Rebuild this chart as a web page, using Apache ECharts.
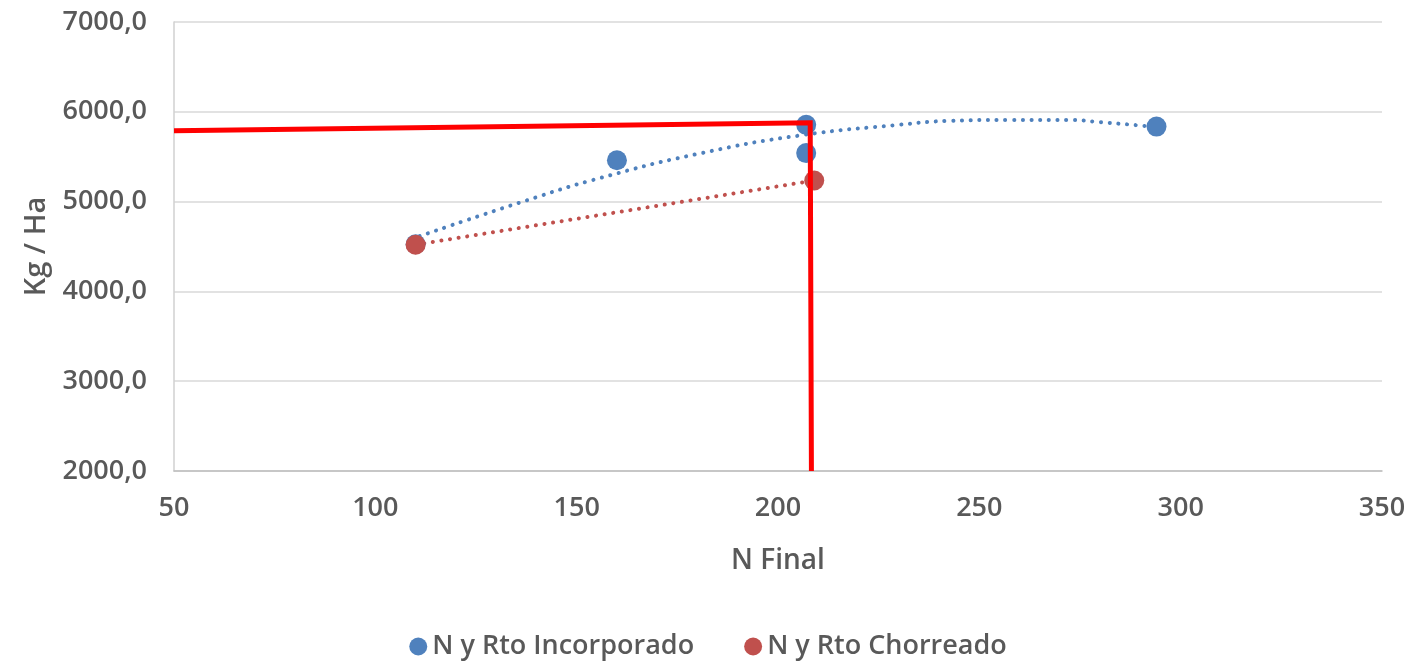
<!DOCTYPE html>
<html>
<head>
<meta charset="utf-8">
<script src="https://cdn.jsdelivr.net/npm/echarts@6/dist/echarts.min.js"></script>
<style>
  html, body { margin: 0; padding: 0; background: #fff; }
  #chart { width: 1416px; height: 665px; }
</style>
</head>
<body>
<div id="chart"></div>
<script>
// ---- Data ----
const incorporadoX = [110, 160, 207, 207, 294];
const incorporadoY = [4525, 5460, 5855, 5540, 5835];
const chorreadoX = [110, 209];
const chorreadoY = [4520, 5235];
// dotted trend line of "Incorporado"
const trendIncX = [111, 137, 156, 181, 206, 230, 243, 258, 272, 280, 293];
const trendIncY = [4615, 5005, 5265, 5540, 5740, 5855, 5900, 5910, 5910, 5885, 5835];
// red reference lines (horizontal then vertical)
const refX = [50, 208, 208.3];
const refY = [5790, 5878, 2000];
const yTickValues = [2000, 3000, 4000, 5000, 6000, 7000];
const yTickLabels = ['2000,0', '3000,0', '4000,0', '5000,0', '6000,0', '7000,0'];

const zip = (xs, ys) => xs.map((x, i) => [x, ys[i]]);

const textColor = '#595959';
const fontFamily = '"Open Sans", "Noto Sans", sans-serif';

const chart = echarts.init(document.getElementById('chart'));
chart.setOption({
  animation: false,
  backgroundColor: '#ffffff',
  textStyle: { fontFamily: fontFamily },
  grid: { left: 174, right: 34, top: 22, bottom: 194, containLabel: false },
  legend: {
    bottom: 0,
    left: 'center',
    icon: 'circle',
    itemWidth: 18,
    itemHeight: 18,
    itemGap: 50,
    data: ['N y Rto Incorporado', 'N y Rto Chorreado'],
    textStyle: { color: textColor, fontSize: 27, fontWeight: 600, fontFamily: fontFamily }
  },
  xAxis: {
    type: 'value',
    min: 50, max: 350, interval: 50,
    name: 'N Final',
    nameLocation: 'middle',
    nameGap: 76,
    nameTextStyle: { color: textColor, fontSize: 28, fontWeight: 600, fontFamily: fontFamily },
    axisLine: { show: true, lineStyle: { color: '#bfbfbf', width: 1.5 } },
    axisTick: { show: false },
    splitLine: { show: false },
    axisLabel: { color: textColor, fontSize: 27, fontWeight: 600, margin: 24, fontFamily: fontFamily }
  },
  yAxis: {
    type: 'value',
    min: 2000, max: 7000, interval: 1000,
    name: 'Kg / Ha',
    nameLocation: 'middle',
    nameGap: 122,
    nameTextStyle: { color: textColor, fontSize: 29, fontWeight: 600, fontFamily: fontFamily },
    axisLine: { show: true, lineStyle: { color: '#d0d0d0', width: 1.5 } },
    axisTick: { show: false },
    splitLine: { show: true, lineStyle: { color: '#d9d9d9', width: 1.5 } },
    axisLabel: {
      color: textColor, fontSize: 27, fontWeight: 600, margin: 27, fontFamily: fontFamily,
      formatter: v => { const i = yTickValues.indexOf(v); return i >= 0 ? yTickLabels[i] : ''; }
    }
  },
  series: [
    {
      name: 'trend Incorporado',
      type: 'line',
      smooth: true,
      showSymbol: false,
      silent: true,
      data: zip(trendIncX, trendIncY),
      lineStyle: { color: '#4F81BD', width: 4, type: [0.1, 8.6], cap: 'round' },
      z: 2
    },
    {
      name: 'trend Chorreado',
      type: 'line',
      showSymbol: false,
      silent: true,
      data: zip(chorreadoX, chorreadoY),
      lineStyle: { color: '#C0504D', width: 4, type: [0.1, 8.6], cap: 'round' },
      z: 2
    },
    {
      name: 'N y Rto Incorporado',
      type: 'scatter',
      symbol: 'circle',
      symbolSize: 20,
      itemStyle: { color: '#4F81BD', opacity: 1 },
      data: zip(incorporadoX, incorporadoY),
      z: 3
    },
    {
      name: 'N y Rto Chorreado',
      type: 'scatter',
      symbol: 'circle',
      symbolSize: 20,
      itemStyle: { color: '#C0504D', opacity: 1 },
      data: zip(chorreadoX, chorreadoY),
      z: 4
    },
    {
      name: 'ref',
      type: 'line',
      showSymbol: false,
      silent: true,
      data: zip(refX, refY),
      lineStyle: { color: '#FF0000', width: 5, join: 'miter' },
      z: 5
    }
  ]
});
</script>
</body>
</html>
